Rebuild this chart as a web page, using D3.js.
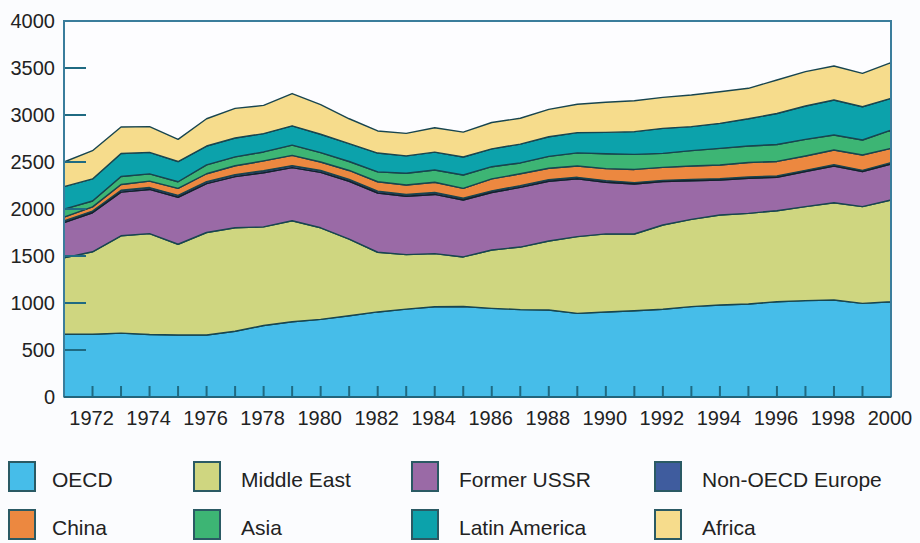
<!DOCTYPE html>
<html>
<head>
<meta charset="UTF-8">
<title>Oil production by region 1971-2000</title>
<script src="https://d3js.org/d3.v7.min.js"></script>
<style>
body { margin: 0; background: #fbfcfe; }
text { font-family: "Liberation Sans", Arial, sans-serif; fill: #222; }
</style>
</head>
<body>
<svg width="920" height="543"></svg>
<script>
// data (1971 - 2000)
var years = [1971,1972,1973,1974,1975,1976,1977,1978,1979,1980,1981,1982,1983,1984,1985,
             1986,1987,1988,1989,1990,1991,1992,1993,1994,1995,1996,1997,1998,1999,2000];
var oecd   = [670,668,680,665,660,660,700,760,800,826,865,905,935,960,962,943,930,925,890,905,918,933,961,979,989,1014,1025,1032,996,1014];
var midEast= [810,877,1035,1073,965,1090,1100,1050,1075,974,815,635,580,565,528,621,665,735,816,830,816,897,929,957,965,968,1000,1035,1029,1082];
var ussr   = [375,415,465,470,500,520,545,575,565,590,615,630,620,630,606,611,635,635,614,550,532,461,411,372,372,355,372,390,372,383];
var nonOecdEur = [18,18,20,20,20,20,20,22,22,20,20,20,20,20,18,18,18,18,17,17,15,14,14,14,14,14,14,14,14,14];
var china  = [40,45,60,68,75,85,95,105,108,90,95,100,100,110,106,127,127,120,120,128,140,138,142,146,155,155,153,157,163,152];
var asia   = [85,62,85,78,70,95,95,95,110,100,95,105,125,130,142,130,115,127,140,158,160,149,164,177,175,180,177,159,160,195];
var latAm  = [240,235,245,228,215,200,200,195,205,195,190,200,185,190,191,190,200,209,215,227,242,266,255,266,290,330,355,373,354,337];
var africa = [262,300,282,274,236,290,315,300,343,315,265,235,240,260,265,280,275,291,302,320,329,330,337,337,324,356,365,361,355,380];

var seriesNames = ["OECD","Middle East","Former USSR","Non-OECD Europe","China","Asia","Latin America","Africa"];
var seriesVals  = [oecd, midEast, ussr, nonOecdEur, china, asia, latAm, africa];
var colors = ["#46bde9","#cfd680","#9a6aa6","#3f5c9e","#ec8840","#3db574","#0ca2ab","#f6dc8c"];

var yTicks = [0,500,1000,1500,2000,2500,3000,3500,4000];
var xLabels = [1972,1974,1976,1978,1980,1982,1984,1986,1988,1990,1992,1994,1996,1998,2000];

// build rows for d3.stack
var rows = years.map(function(yr, i){
  var r = {year: yr};
  seriesNames.forEach(function(n, j){ r[n] = seriesVals[j][i]; });
  return r;
});

var svg = d3.select("svg");
var pLeft = 64, pRight = 891, pTop = 21, pBottom = 397;

var x = d3.scaleLinear().domain([1971, 2000]).range([pLeft, pRight]);
var y = d3.scaleLinear().domain([0, 4000]).range([pBottom, pTop]);

// plot background
svg.append("rect").attr("x", pLeft).attr("y", pTop)
  .attr("width", pRight - pLeft).attr("height", pBottom - pTop)
  .attr("fill", "#fdfdff");

var stacked = d3.stack().keys(seriesNames)(rows);

var area = d3.area()
  .x(function(d){ return x(d.data.year); })
  .y0(function(d){ return y(d[0]); })
  .y1(function(d){ return y(d[1]); });

svg.append("g").selectAll("path")
  .data(stacked)
  .enter().append("path")
  .attr("d", area)
  .attr("fill", function(d, i){ return colors[i]; })
  .attr("stroke", function(d, i){ return i == 3 ? "#151e2a" : "#18454f"; })
  .attr("stroke-width", 1.4)
  .attr("stroke-linejoin", "round");

// y ticks (inside) + labels
var yt = svg.append("g");
yt.selectAll("line").data(yTicks.filter(function(v){ return v > 0 && v < 4000; }))
  .enter().append("line")
  .attr("x1", pLeft).attr("x2", pLeft + 22)
  .attr("y1", function(d){ return y(d); }).attr("y2", function(d){ return y(d); })
  .attr("stroke", "#1f6a82").attr("stroke-width", 2);
yt.selectAll("text").data(yTicks).enter().append("text")
  .attr("x", 55).attr("y", function(d){ return y(d); })
  .attr("dy", "0.36em")
  .attr("text-anchor", "end")
  .attr("font-size", 20)
  .text(function(d){ return d; });

// x ticks every year, labels every 2 years
svg.append("g").selectAll("line")
  .data(years.filter(function(v){ return v > 1971 && v < 2000; }))
  .enter().append("line")
  .attr("x1", function(d){ return x(d); }).attr("x2", function(d){ return x(d); })
  .attr("y1", pBottom).attr("y2", pBottom - 11)
  .attr("stroke", "#1f6a82").attr("stroke-width", 2);
svg.append("g").selectAll("text").data(xLabels).enter().append("text")
  .attr("x", function(d){ return x(d) - 1; })
  .attr("y", 425)
  .attr("text-anchor", "middle")
  .attr("font-size", 20)
  .text(function(d){ return d; });

// frame
svg.append("path")
  .attr("d", "M" + pLeft + "," + pBottom + "V" + pTop + "H" + pRight + "V" + pBottom)
  .attr("fill", "none")
  .attr("stroke", "#3a7d9c")
  .attr("stroke-width", 2);
svg.append("line").attr("x1", pLeft).attr("x2", pRight).attr("y1", pBottom).attr("y2", pBottom)
  .attr("stroke", "#22657c").attr("stroke-width", 2);

// legend
var colX = [9, 194, 412, 655], textX = [52, 241, 459, 702], rowY = [462, 510];
var leg = svg.append("g").selectAll("g").data(seriesNames).enter().append("g");
leg.append("rect")
  .attr("x", function(d, i){ return colX[i % 4]; })
  .attr("y", function(d, i){ return rowY[Math.floor(i / 4)]; })
  .attr("width", 26).attr("height", 29)
  .attr("fill", function(d, i){ return colors[i]; })
  .attr("stroke", "#2a5a64").attr("stroke-width", 2);
leg.append("text")
  .attr("x", function(d, i){ return textX[i % 4]; })
  .attr("y", function(d, i){ return rowY[Math.floor(i / 4)] + 25; })
  .attr("font-size", 21)
  .text(function(d){ return d; });
</script>
</body>
</html>
